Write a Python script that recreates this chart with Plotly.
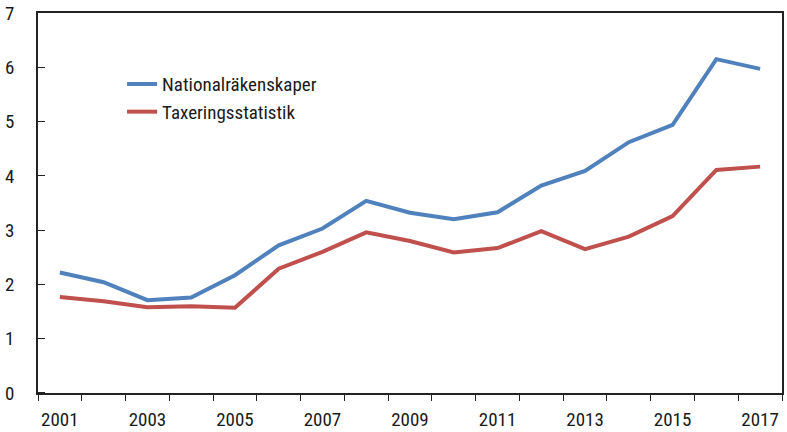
import plotly.graph_objects as go

years = list(range(2001, 2018))
national = [2.22, 2.04, 1.71, 1.76, 2.17, 2.72, 3.03, 3.54, 3.32, 3.20, 3.33,
            3.82, 4.09, 4.62, 4.94, 6.15, 5.97]
taxering = [1.77, 1.69, 1.58, 1.60, 1.57, 2.29, 2.60, 2.96, 2.80, 2.59, 2.67,
            2.98, 2.65, 2.88, 3.26, 4.11, 4.17]
label_years = [2001, 2003, 2005, 2007, 2009, 2011, 2013, 2015, 2017]

FONT = "Roboto Condensed, sans-serif"
AXIS = '#222222'
xrange = [years[0] - 0.5, years[-1] + 0.5]
bounds = [y - 0.5 for y in years] + [years[-1] + 0.5]

fig = go.Figure()
fig.add_trace(go.Scatter(x=years, y=national, mode='lines', name='Nationalräkenskaper',
                         line=dict(color='#4F81BD', width=4)))
fig.add_trace(go.Scatter(x=years, y=taxering, mode='lines', name='Taxeringsstatistik',
                         line=dict(color='#C0504D', width=4)))

fig.update_layout(
    width=787, height=432,
    margin=dict(l=38, r=5, t=13, b=39),
    paper_bgcolor='white', plot_bgcolor='white',
    font=dict(family=FONT, size=19, color='#1a1a1a'),
    showlegend=True,
    legend=dict(x=0.113, y=0.776, xanchor='left', yanchor='middle',
                bgcolor='rgba(0,0,0,0)', font=dict(size=19)),
    # labels on the odd years; the (invisible) major ticks only push them down
    xaxis=dict(range=xrange, tickmode='array', tickvals=label_years,
               ticks='outside', ticklen=8, tickcolor='rgba(0,0,0,0)',
               minor=dict(ticks='outside', ticklen=6, tickwidth=1.3, tickcolor=AXIS,
                          tickmode='array', tickvals=bounds),
               showgrid=False, showline=True, mirror=True, linecolor=AXIS,
               linewidth=1.5, zeroline=False, automargin=False),
    # inner half of the crossing x ticks
    xaxis2=dict(range=xrange, overlaying='x', anchor='y', side='bottom',
                tickmode='array', tickvals=bounds, ticks='inside', ticklen=6,
                tickwidth=1.3, tickcolor=AXIS, showticklabels=False,
                showgrid=False, showline=False, zeroline=False, automargin=False),
    yaxis=dict(range=[0, 7], dtick=1, ticks='outside', ticklen=18,
               tickcolor='rgba(0,0,0,0)',
               minor=dict(ticks='inside', ticklen=7, tickwidth=1.3, tickcolor=AXIS,
                          tick0=0.001, dtick=1),
               showgrid=False, showline=True, mirror=True,
               linecolor=AXIS, linewidth=1.5, zeroline=False, automargin=False),
)

# drop the page's default body margin so the figure sits at the window's corner
fig.write_html("out.html", config={'displayModeBar': False},
               post_script="document.body.style.margin='0';")
